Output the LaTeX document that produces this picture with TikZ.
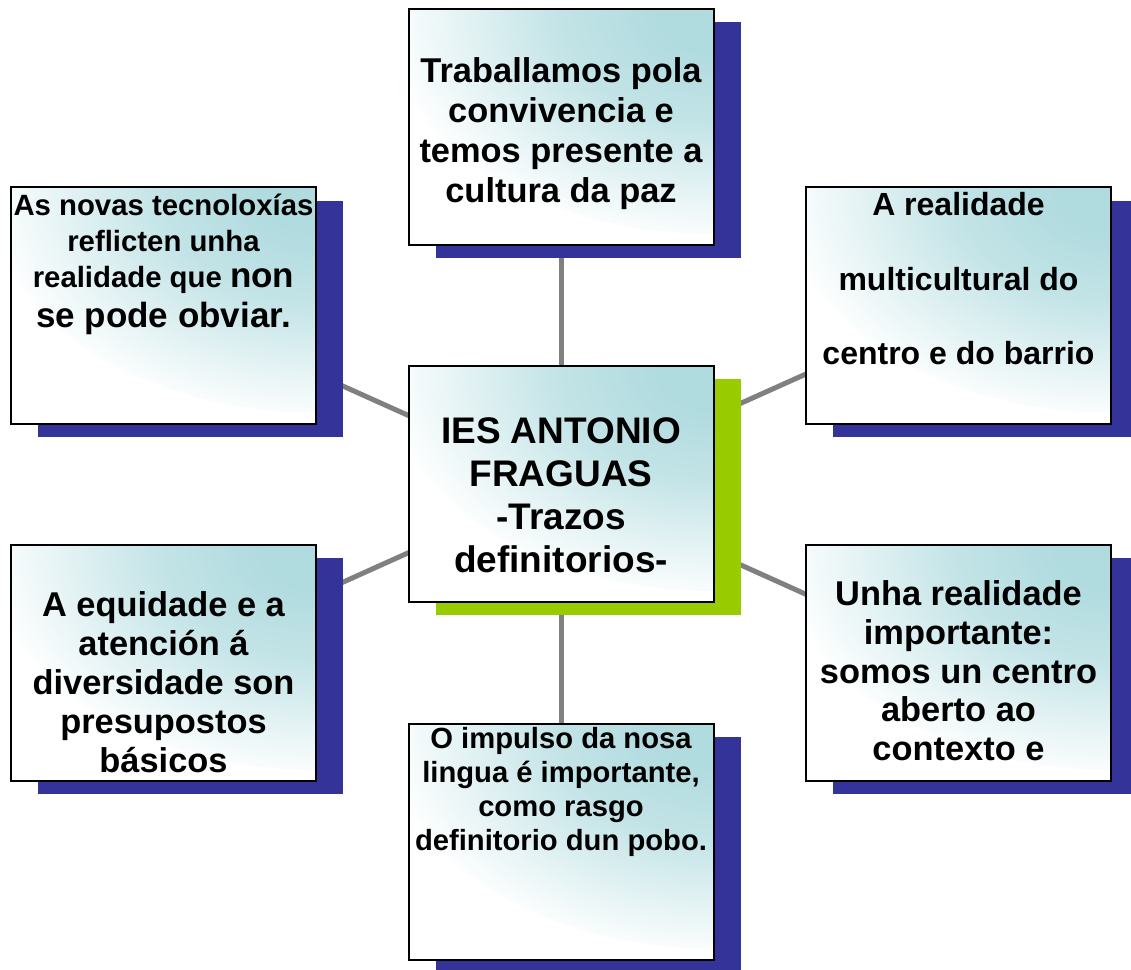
\documentclass[tikz,border=0pt]{standalone}
\usepackage{fontspec}
\setmainfont{Liberation Sans}
\usetikzlibrary{shadows,backgrounds}
\definecolor{shadowblue}{RGB}{51,51,153}
\definecolor{limegreen}{RGB}{153,204,0}
\definecolor{linkgray}{RGB}{128,128,128}
\definecolor{boxteal}{RGB}{176,219,223}
\pgfdeclareradialshading{cornerglow}{\pgfpoint{0bp}{0bp}}{color(0bp)=(boxteal); color(4bp)=(boxteal); color(12bp)=(boxteal!75!white); color(25bp)=(white); color(50bp)=(white)}
\begin{document}
\begin{tikzpicture}[x=0.75pt,y=-0.75pt,
  cardbase/.style={rectangle, draw=black, fill=white, line width=1.5pt,
    minimum width=228.75pt, minimum height=177pt, inner sep=0pt, outer sep=0pt,
    path picture={\shade[shading=cornerglow] (path picture bounding box.north east) ellipse [x radius=330, y radius=225];}},
  card/.style={cardbase, drop shadow={shadow xshift=20.25pt, shadow yshift=-10.1pt, fill=shadowblue, opacity=1}},
  hubcard/.style={cardbase, drop shadow={shadow xshift=20.25pt, shadow yshift=-10.1pt, fill=limegreen, opacity=1}},
  cardtext/.style={align=center, inner sep=0pt, outer sep=0pt},
  link/.style={draw=linkgray, line width=3.75pt}]
\useasboundingbox (0,0) rectangle (1131,970);

\node[card] (T) at (561,127) {};
\node[card] (LU) at (163.5,305.5) {};
\node[card] (RU) at (958.5,305.5) {};
\node[hubcard] (C) at (561,484) {};
\node[card] (LL) at (163.5,663) {};
\node[card] (RL) at (958.5,663) {};
\node[card] (B) at (561,841.5) {};

\node[cardtext, font={\fontsize{25.8pt}{30.2pt}\selectfont\bfseries}] (Tt) at (561,133.6)
  {Traballamos pola\\convivencia e\\temos presente a\\cultura da paz};
\node[cardtext, font={\fontsize{22pt}{27pt}\selectfont\bfseries}] (LUt) at (163.5,264)
  {As novas tecnoloxías\\reflicten unha\\realidade que {\fontsize{26.25pt}{30pt}\selectfont non}\\[3pt]{\fontsize{26.25pt}{30pt}\selectfont se pode obviar.}};
\node[cardtext, font={\fontsize{24pt}{55.9pt}\selectfont\bfseries}] (RUt) at (958.5,279)
  {A realidade\\multicultural do\\centro e do barrio};
\node[cardtext, font={\fontsize{27.75pt}{32.25pt}\selectfont\bfseries}] (Ct) at (561,495.3)
  {IES ANTONIO\\FRAGUAS\\-Trazos\\definitorios-};
\node[cardtext, font={\fontsize{25.8pt}{29.25pt}\selectfont\bfseries}] (LLt) at (163.5,681.7)
  {A equidade e a\\atención á\\diversidade son\\presupostos\\básicos};
\node[cardtext, font={\fontsize{25.8pt}{28.9pt}\selectfont\bfseries}] (RLt) at (958.5,670.7)
  {Unha realidade\\importante:\\somos un centro\\aberto ao\\contexto e};
\node[cardtext, font={\fontsize{21.9pt}{25.3pt}\selectfont\bfseries}] (Bt) at (561,791.9)
  {O impulso da nosa\\lingua é importante,\\como rasgo\\definitorio dun pobo.};

\begin{scope}[on background layer]
  \fill[white] (0,0) rectangle (1131,970);
  \draw[link] (C.center) -- (T.center);
  \draw[link] (C.center) -- (B.center);
  \draw[link] (C.center) -- (LU.center);
  \draw[link] (C.center) -- (RU.center);
  \draw[link] (C.center) -- (LL.center);
  \draw[link] (C.center) -- (RL.center);
\end{scope}
\end{tikzpicture}
\end{document}
